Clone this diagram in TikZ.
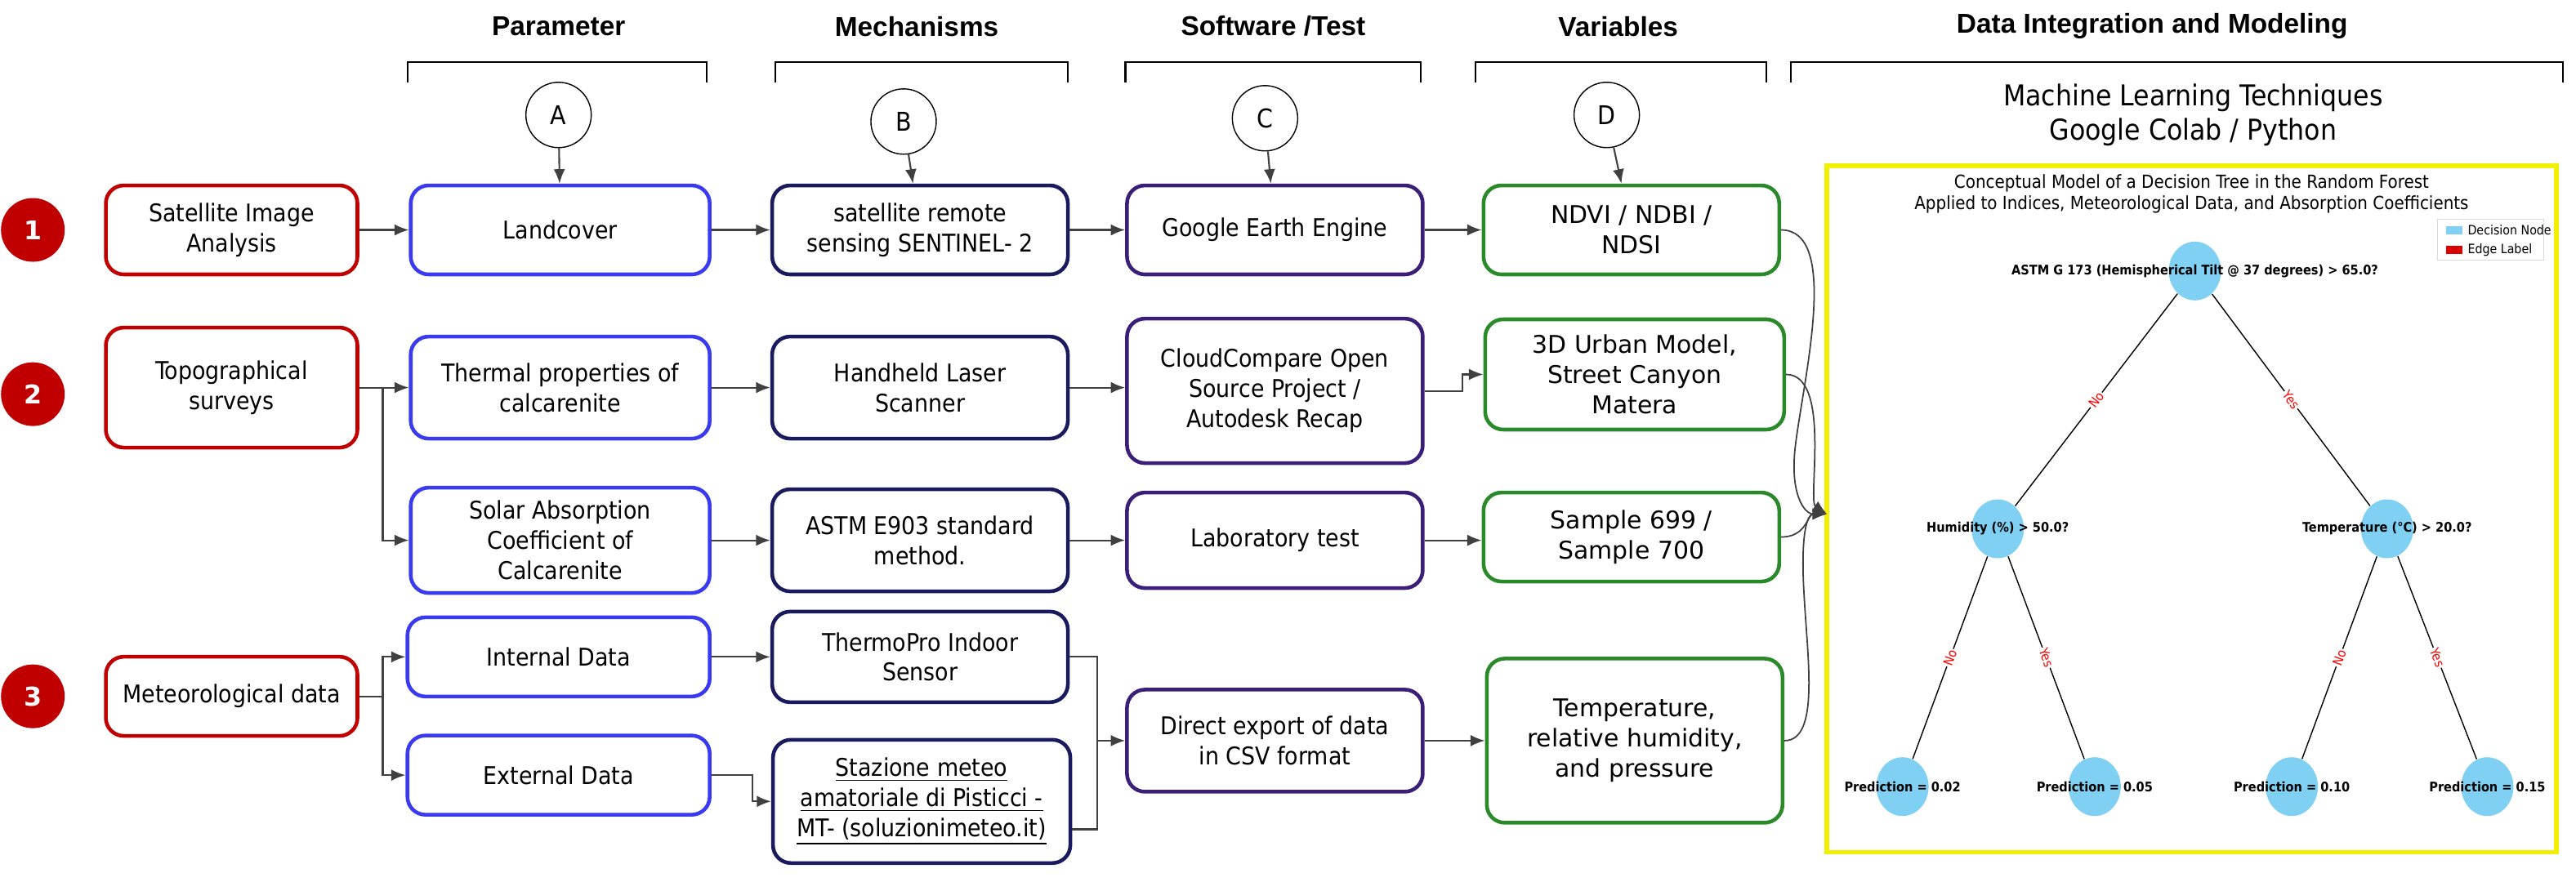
\documentclass[tikz,border=0pt]{standalone}
\usepackage{fontspec}
\setmainfont{DejaVu Sans}
\newfontfamily\cond{DejaVu Sans Condensed}
\newfontfamily\hdr{Liberation Sans}
\usetikzlibrary{arrows.meta,shapes.geometric}
\definecolor{cred}{HTML}{C00000}
\definecolor{cblue}{HTML}{3A3AF0}
\definecolor{cnavy}{HTML}{1A1A5E}
\definecolor{cind}{HTML}{3A1E78}
\definecolor{cgreen}{HTML}{2A8A2A}
\definecolor{cyel}{HTML}{F0F000}
\definecolor{sky}{HTML}{7FD0F2}
\begin{document}
\begin{tikzpicture}[x=0.02011cm,y=-0.02011cm,
  box/.style={draw=#1,line width=1.3pt,rounded corners=0.22cm,align=center,fill=white,
     font=\cond\fontsize{8.5}{10.5}\selectfont,inner sep=1pt},
  gbox/.style={box=cgreen,font=\fontsize{8.5}{10.5}\selectfont},
  hd/.style={font=\hdr\bfseries\fontsize{9.5}{11}\selectfont},
  letter/.style={circle,draw,thin,minimum size=0.8cm,font=\cond\fontsize{9}{10}\selectfont},
  num/.style={circle,fill=cred,minimum size=0.78cm,text=white,font=\bfseries\fontsize{9}{10}\selectfont},
  ar/.style={-{Latex[length=5pt,width=4pt]},line width=0.6pt,draw=black!75},
  ln/.style={line width=0.6pt,draw=black!75},
  brk/.style={line width=0.6pt},
  tn/.style={ellipse,fill=sky,minimum width=0.64cm,minimum height=0.72cm,inner sep=0},
  tl/.style={font=\cond\bfseries\fontsize{4.6}{5}\selectfont},
  el/.style={midway,sloped,fill=white,text=red,inner sep=0.5pt,font=\cond\fontsize{4.5}{5}\selectfont}
]
\useasboundingbox (0,0) rectangle (1568,537);
% headers
\node[hd] (h1) at (340,16) {Parameter};
\node[hd] (h2) at (558,16) {Mechanisms};
\node[hd] (h3) at (775,16) {Software /Test};
\node[hd] (h4) at (985,16) {Variables};
\node[hd] (h5) at (1310,16) {Data Integration and Modeling};
\foreach \a/\b in {248/430,472/650,685/865,898/1075,1090/1560}
  \draw[brk] (\a,50) -- (\a,38) -- (\b,38) -- (\b,50);
\node[letter] (A) at (340,70) {A};
\node[letter] (B) at (550,74) {B};
\node[letter] (C) at (770,72) {C};
\node[letter] (D) at (978,70) {D};
\node[font=\cond\fontsize{10}{12}\selectfont,align=center] (ml) at (1335,70) {Machine Learning Techniques\\Google Colab / Python};
% number circles
\node[num] (n1) at (20,140) {1};
\node[num] (n2) at (20,240) {2};
\node[num] (n3) at (20,424) {3};
% row 1
\node[box=cred,minimum width=3.08cm,minimum height=1.09cm] (sat) at (141,140) {Satellite Image\\Analysis};
\node[box=cblue,minimum width=3.66cm,minimum height=1.09cm] (lc) at (341,140) {Landcover};
\node[box=cnavy,minimum width=3.62cm,minimum height=1.09cm] (srs) at (560,140) {satellite remote\\sensing SENTINEL- 2};
\node[box=cind,minimum width=3.62cm,minimum height=1.09cm] (gee) at (776,140) {Google Earth Engine};
\node[gbox,minimum width=3.62cm,minimum height=1.09cm] (ndvi) at (993,140) {NDVI / NDBI /\\NDSI};
% row 2
\node[box=cred,minimum width=3.08cm,minimum height=1.47cm] (topo) at (141,236) {Topographical\\surveys};
\node[box=cblue,minimum width=3.66cm,minimum height=1.25cm] (th) at (341,236) {Thermal properties of\\calcarenite};
\node[box=cnavy,minimum width=3.62cm,minimum height=1.25cm] (hls) at (560,236) {Handheld Laser\\Scanner};
\node[box=cind,minimum width=3.62cm,minimum height=1.77cm] (cc) at (776,238) {CloudCompare Open\\Source Project /\\Autodesk Recap};
\node[gbox,minimum width=3.66cm,minimum height=1.35cm] (urb) at (995,228) {3D Urban Model,\\Street Canyon\\Matera};
\node[box=cblue,minimum width=3.66cm,minimum height=1.29cm] (sol) at (341,329) {Solar Absorption\\Coefficient of\\Calcarenite};
\node[box=cnavy,minimum width=3.62cm,minimum height=1.25cm] (astm) at (560,329) {ASTM E903 standard\\method.};
\node[box=cind,minimum width=3.62cm,minimum height=1.17cm] (lab) at (776,329) {Laboratory test};
\node[gbox,minimum width=3.62cm,minimum height=1.09cm] (smp) at (993,327) {Sample 699 /\\Sample 700};
% row 3
\node[box=cred,minimum width=3.08cm,minimum height=0.97cm] (met) at (141,424) {Meteorological data};
\node[box=cblue,minimum width=3.7cm,minimum height=0.97cm] (int) at (340,400) {Internal Data};
\node[box=cblue,minimum width=3.7cm,minimum height=0.97cm] (ext) at (340,472) {External Data};
\node[box=cnavy,minimum width=3.62cm,minimum height=1.11cm] (tp) at (560,400) {ThermoPro Indoor\\Sensor};
\node[box=cnavy,minimum width=3.64cm,minimum height=1.51cm] (stz) at (561,488) {\underline{Stazione meteo}\\\underline{amatoriale di Pisticci -}\\\underline{MT- (soluzionimeteo.it)}};
\node[box=cind,minimum width=3.62cm,minimum height=1.25cm] (dex) at (776,451) {Direct export of data\\in CSV format};
\node[gbox,minimum width=3.62cm,minimum height=2.01cm] (tmp) at (995,451) {Temperature,\\relative humidity,\\and pressure};
% letter arrows
\draw[ar] (A) -- (lc);
\draw[ar] (B) -- (srs);
\draw[ar] (C) -- (gee);
\draw[ar] (D) -- (ndvi);
% row1 arrows
\draw[ar] (sat) -- (lc);
\draw[ar] (lc) -- (srs);
\draw[ar] (srs) -- (gee);
\draw[ar] (gee) -- (ndvi);
% row2
\coordinate (j2) at (233,236);
\draw[ln] (topo.east) -- (j2);
\draw[ar] (j2) -- (th.west);
\draw[ar] (j2) |- (sol.west);
\draw[ar] (th) -- (hls);
\draw[ar] (hls.east) -- (hls.east -| cc.west);
\coordinate (s2) at (890,238);
\draw[ar] (cc.east) -- (s2) |- (urb.west);
\draw[ar] (sol) -- (astm);
\draw[ar] (astm) -- (lab);
\draw[ar] (lab.east) -- (lab.east -| smp.west);
% row3
\coordinate (j3) at (233,424);
\draw[ln] (met.east) -- (j3);
\draw[ar] (j3) |- (int.west);
\draw[ar] (j3) |- (ext.west);
\draw[ar] (int) -- (tp);
\coordinate (s3) at (458,472);
\draw[ar] (ext.east) -- (s3) |- (stz.west);
\coordinate (j4) at (668,451);
\coordinate (se) at (stz.east |- 0,505);
\draw[ln] (tp.east) -| (j4);
\draw[ln] (se) -| (j4);
\draw[ar] (j4) -- (dex.west);
\draw[ar] (dex) -- (tmp);
% yellow box and convergence
\node[draw=cyel,line width=1.5pt,minimum width=8.93cm,minimum height=8.41cm,inner sep=0] (yb) at (1334,310) {};
\coordinate (cv) at (1112,313);
\draw[ar,line width=0.5pt] (ndvi.east) .. controls (1120,140) and (1098,230) .. (1093,270) .. controls (1089,300) and (1098,313) .. (cv);
\draw[ar,line width=0.5pt] (urb.east) .. controls (1115,228) and (1100,305) .. (cv);
\draw[ar,line width=0.5pt] (smp.east) .. controls (1100,327) and (1100,313) .. (cv);
\draw[ar,line width=0.5pt] (tmp.east) .. controls (1108,451) and (1100,400) .. (1098,360) .. controls (1096,325) and (1100,313) .. (cv);
% tree
\node[font=\cond\fontsize{6.3}{7.5}\selectfont,align=center] (tt) at (1334,118) {Conceptual Model of a Decision Tree in the Random Forest\\Applied to Indices, Meteorological Data, and Absorption Coefficients};
\node[tn] (r) at (1336,165) {};
\node[tn] (hu) at (1216,322) {};
\node[tn] (te) at (1453,322) {};
\node[tn] (l1) at (1158,479) {};
\node[tn] (l2) at (1275,479) {};
\node[tn] (l3) at (1395,479) {};
\node[tn] (l4) at (1514,479) {};
\draw[thin] (r) -- node[el]{No} (hu);
\draw[thin] (r) -- node[el]{Yes} (te);
\draw[thin] (hu) -- node[el]{No} (l1);
\draw[thin] (hu) -- node[el]{Yes} (l2);
\draw[thin] (te) -- node[el]{No} (l3);
\draw[thin] (te) -- node[el]{Yes} (l4);
\node[tl] (rl) at (r) {ASTM G 173 (Hemispherical Tilt @ 37 degrees) > 65.0?};
\node[tl] (hul) at (hu) {Humidity (\%) > 50.0?};
\node[tl] (tel) at (te) {Temperature (°C) > 20.0?};
\node[tl] (l1l) at (l1) {Prediction = 0.02};
\node[tl] (l2l) at (l2) {Prediction = 0.05};
\node[tl] (l3l) at (l3) {Prediction = 0.10};
\node[tl] (l4l) at (l4) {Prediction = 0.15};
% legend
\node[draw=black!15,minimum width=1.3cm,minimum height=0.5cm] (lg) at (1516,146) {};
\node[fill=sky,minimum width=0.2cm,minimum height=0.1cm,inner sep=0] (k1) at (1494,140) {};
\node[fill=red!85!black,minimum width=0.2cm,minimum height=0.1cm,inner sep=0] (k2) at (1494,152) {};
\node[anchor=west,font=\cond\fontsize{4.5}{5}\selectfont,inner sep=1pt] (t1) at (1500,140) {Decision Node};
\node[anchor=west,font=\cond\fontsize{4.5}{5}\selectfont,inner sep=1pt] (t2) at (1500,152) {Edge Label};
\end{tikzpicture}
\end{document}
